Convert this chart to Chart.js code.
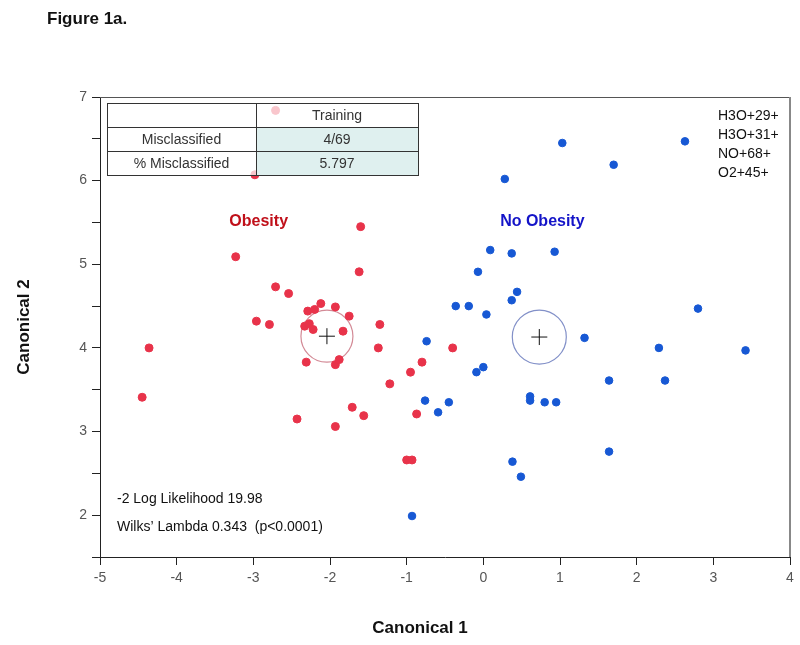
<!DOCTYPE html>
<html>
<head>
<meta charset="utf-8">
<script src="https://cdn.jsdelivr.net/npm/chart.js@4/dist/chart.umd.min.js"></script>
<style>
    body { margin: 0; background: #fff; overflow: hidden; }
    #wrap { width: 800px; height: 645px; position: relative; }
    canvas { display: block; }
</style>
</head>
<body>
<div id="wrap"><canvas id="chart" width="800" height="645"></canvas></div>
<script>
// Canonical scores: [Canonical 1, Canonical 2]
const obesity = [
    [-1.60, 5.45], [-3.23, 5.09], [-1.62, 4.91], [-2.71, 4.73], [-2.54, 4.65],
    [-2.12, 4.53], [-1.93, 4.49], [-2.29, 4.44], [-2.20, 4.46], [-1.75, 4.38],
    [-2.96, 4.32], [-2.79, 4.28], [-2.33, 4.26], [-2.27, 4.29], [-2.22, 4.22],
    [-1.83, 4.20], [-1.35, 4.28], [-4.36, 4.00], [-1.37, 4.00], [-2.31, 3.83],
    [-1.93, 3.80], [-1.88, 3.86], [-1.22, 3.57], [-4.45, 3.41], [-1.71, 3.29],
    [-1.56, 3.19], [-2.43, 3.15], [-1.93, 3.06], [-0.87, 3.21], [-1.00, 2.66],
    [-0.93, 2.66], [-0.40, 4.00], [-0.80, 3.83], [-0.95, 3.71], [-2.71, 6.84],
    [-2.98, 6.07]
];
const noObesity = [
    [1.03, 6.45], [2.63, 6.47], [1.70, 6.19], [0.28, 6.02], [0.09, 5.17],
    [0.37, 5.13], [0.93, 5.15], [-0.07, 4.91], [0.44, 4.67], [0.37, 4.57],
    [-0.36, 4.50], [-0.19, 4.50], [0.04, 4.40], [2.80, 4.47], [-0.74, 4.08],
    [1.32, 4.12], [2.29, 4.00], [3.42, 3.97], [0.00, 3.77], [-0.09, 3.71],
    [1.64, 3.61], [2.37, 3.61], [-0.76, 3.37], [-0.45, 3.35], [-0.59, 3.23],
    [0.61, 3.42], [0.61, 3.37], [0.80, 3.35], [0.95, 3.35], [1.64, 2.76],
    [0.38, 2.64], [0.49, 2.46], [-0.93, 1.99]
];
const obesityMean = [-2.04, 4.14];
const noObesityMean = [0.73, 4.13];

const groupLabels = ['Obesity', 'No Obesity'];
const ionLabels = ['H3O+29+', 'H3O+31+', 'NO+68+', 'O2+45+'];
const tableRows = [
    ['', 'Training'],
    ['Misclassified', '4/69'],
    ['% Misclassified', '5.797']
];
const statLines = ['-2 Log Likelihood 19.98', 'Wilks\u2019 Lambda 0.343  (p<0.0001)'];

const FONT = '"Liberation Sans", Arial, sans-serif';
const toXY = arr => arr.map(p => ({ x: p[0], y: p[1] }));

// the big centroid rings would otherwise push the chart area in by their radius
Chart.BubbleController.prototype.getMaxOverflow = () => 0;

const overlay = {
    id: 'overlay',
    afterDatasetsDraw(chart) {
        const ctx = chart.ctx;
        const x = chart.scales.x, y = chart.scales.y;
        const area = chart.chartArea;

        // plot frame (top / right)
        ctx.save();
        ctx.strokeStyle = '#555';
        ctx.lineWidth = 1;
        ctx.beginPath();
        ctx.moveTo(area.left, area.top + 0.5);
        ctx.lineTo(area.right, area.top + 0.5);
        ctx.stroke();
        ctx.strokeStyle = '#888';
        ctx.lineWidth = 2;
        ctx.beginPath();
        ctx.moveTo(area.right, area.top);
        ctx.lineTo(area.right, area.bottom);
        ctx.stroke();

        // misclassification table
        const tl = 107, tt = 103, cw = [149, 162], rh = 24;
        tableRows.forEach((row, r) => {
            let cx = tl;
            row.forEach((cell, c) => {
                const top = tt + r * rh;
                ctx.fillStyle = (r > 0 && c === 1) ? '#dff0ef' : 'rgba(255,255,255,0.72)';
                ctx.fillRect(cx, top, cw[c], rh);
                ctx.strokeStyle = '#333';
                ctx.lineWidth = 1;
                ctx.strokeRect(cx + 0.5, top + 0.5, cw[c], rh);
                ctx.fillStyle = '#333';
                ctx.font = '14px ' + FONT;
                ctx.textAlign = 'center';
                ctx.textBaseline = 'middle';
                ctx.fillText(cell, cx + cw[c] / 2, top + rh / 2 + 1);
                cx += cw[c];
            });
        });

        // group labels
        ctx.font = 'bold 16px ' + FONT;
        ctx.textAlign = 'center';
        ctx.textBaseline = 'middle';
        ctx.fillStyle = '#c0101a';
        ctx.fillText(groupLabels[0], x.getPixelForValue(-2.93), y.getPixelForValue(5.51));
        ctx.fillStyle = '#1414c8';
        ctx.fillText(groupLabels[1], x.getPixelForValue(0.77), y.getPixelForValue(5.51));

        // response ions
        ctx.font = '14px ' + FONT;
        ctx.fillStyle = '#111';
        ctx.textAlign = 'left';
        ionLabels.forEach((t, i) => ctx.fillText(t, 718, 116 + i * 19));

        // fit statistics
        ctx.font = '14px ' + FONT;
        statLines.forEach((t, i) => ctx.fillText(t, 117, 499 + i * 28));

        // titles
        ctx.font = 'bold 17px ' + FONT;
        ctx.fillStyle = '#111';
        ctx.textAlign = 'left';
        ctx.fillText('Figure 1a.', 47, 19);
        ctx.textAlign = 'center';
        ctx.fillText('Canonical 1', 420, 628);
        ctx.translate(24, 327);
        ctx.rotate(-Math.PI / 2);
        ctx.fillText('Canonical 2', 0, 0);
        ctx.restore();
    }
};

new Chart(document.getElementById('chart'), {
    type: 'scatter',
    data: {
        datasets: [
            {
                label: 'Obesity',
                data: toXY(obesity),
                backgroundColor: '#e8334a',
                borderColor: '#e8334a',
                pointRadius: 4
            },
            {
                label: 'No Obesity',
                data: toXY(noObesity),
                backgroundColor: '#1758d4',
                borderColor: '#1758d4',
                pointRadius: 3.8
            },
            {
                type: 'bubble',
                label: 'Obesity mean',
                data: toXY([obesityMean]),
                radius: 26,
                pointStyle: 'circle',
                backgroundColor: 'rgba(0,0,0,0)',
                borderColor: '#d38a96',
                borderWidth: 1.2
            },
            {
                type: 'bubble',
                label: 'No Obesity mean',
                data: toXY([noObesityMean]),
                radius: 27,
                pointStyle: 'circle',
                backgroundColor: 'rgba(0,0,0,0)',
                borderColor: '#8290c8',
                borderWidth: 1.2
            },
            {
                type: 'bubble',
                label: 'Means',
                data: toXY([obesityMean, noObesityMean]),
                radius: 8,
                pointStyle: 'cross',
                backgroundColor: 'rgba(0,0,0,0)',
                borderColor: '#111',
                borderWidth: 1
            }
        ]
    },
    options: {
        responsive: false,
        animation: false,
        layout: { padding: { top: 97, right: 10, left: 0, bottom: 0 } },
        plugins: {
            legend: { display: false },
            tooltip: { enabled: false }
        },
        scales: {
            x: {
                type: 'linear',
                min: -5,
                max: 4,
                afterFit: s => { s.height = 88; s.paddingLeft = 0; s.paddingRight = 0; },
                ticks: {
                    stepSize: 1,
                    padding: 5,
                    color: '#555',
                    font: { family: FONT, size: 14 }
                },
                grid: { drawOnChartArea: false, tickLength: 8, color: '#222' },
                border: { color: '#222', width: 1 }
            },
            y: {
                type: 'linear',
                min: 1.5,
                max: 7,
                afterFit: s => { s.width = 100; s.paddingTop = 0; s.paddingBottom = 0; },
                ticks: {
                    stepSize: 0.5,
                    padding: 5,
                    color: '#555',
                    font: { family: FONT, size: 14 },
                    callback: v => (v % 1 === 0 ? v : '')
                },
                grid: { drawOnChartArea: false, tickLength: 8, color: '#222' },
                border: { color: '#222', width: 1 }
            }
        }
    },
    plugins: [overlay]
});
</script>
</body>
</html>
